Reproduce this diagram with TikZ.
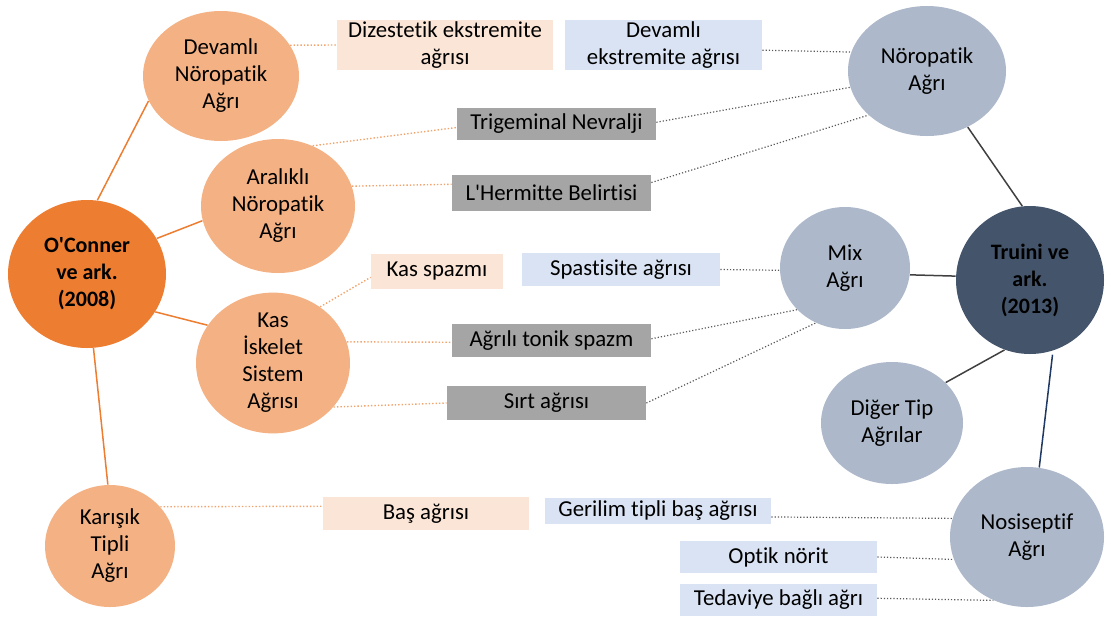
\documentclass[tikz,border=0pt]{standalone}
\usepackage{fontspec}
\setmainfont{Carlito}[Ligatures={NoCommon}]
\usetikzlibrary{shapes.geometric}
\definecolor{oconnerorange}{HTML}{ED7D31}
\definecolor{lightorange}{HTML}{F4B183}
\definecolor{peach}{HTML}{FBE5D6}
\definecolor{paleblue}{HTML}{DAE3F3}
\definecolor{boxgray}{HTML}{A5A5A5}
\definecolor{bluegray}{HTML}{ADB9CA}
\definecolor{truinidark}{HTML}{44546A}
\definecolor{linegray}{HTML}{595959}
\definecolor{navyline}{HTML}{203864}
\tikzset{
  px/.style 2 args = {minimum width=#1*0.5pt, minimum height=#2*0.5pt},
  painnode/.style = {ellipse, inner sep=0pt, align=center,
    font=\fontsize{11.4}{13.5}\selectfont},
  painbox/.style = {rectangle, inner sep=0pt, align=center,
    font=\fontsize{11.4}{13.5}\selectfont},
  orangelink/.style = {draw=oconnerorange, line width=0.75pt},
  orangedots/.style = {draw=oconnerorange!70, line width=0.7pt, densely dotted},
  graydots/.style = {draw=linegray, line width=0.6pt, densely dotted},
  darklink/.style = {draw=black!75, line width=0.75pt}
}

\begin{document}
\begin{tikzpicture}[x=0.5pt,y=-0.5pt]
  \useasboundingbox (0,0) rectangle (1109,617);
  % O'Conner side
  \node[painnode, fill=oconnerorange, px={158}{148}, font=\fontsize{11}{13.5}\selectfont\bfseries] (oconner) at (87,274) {O\textquotesingle Conner\\ve ark.\\(2008)};
  \node[painnode, fill=lightorange, px={156}{130}] (devamli) at (221,76) {Devamlı\\Nöropatik\\Ağrı};
  \node[painnode, fill=lightorange, px={154}{134}] (aralikli) at (278,206) {Aralıklı\\Nöropatik\\Ağrı};
  \node[painnode, fill=lightorange, px={154}{116}] (kas) at (273,363) {Kas\\İskelet\\Sistem\\Ağrısı};
  \node[painnode, fill=lightorange, px={130}{122}] (karisik) at (110,546) {Karışık\\Tipli\\Ağrı};
  % Truini side
  \node[painnode, fill=truinidark, px={148}{148}, font=\fontsize{11}{13.5}\selectfont\bfseries] (truini) at (1030,280) {Truini ve\\ark.\\(2013)};
  \node[painnode, fill=bluegray, px={158}{130}] (noropatik) at (927,71) {Nöropatik\\Ağrı};
  \node[painnode, fill=bluegray, px={130}{122}] (mix) at (845,268) {Mix\\Ağrı};
  \node[painnode, fill=bluegray, px={142}{122}] (diger) at (892,423) {Diğer Tip\\Ağrılar};
  \node[painnode, fill=bluegray, px={154}{140}] (nosiseptif) at (1027,537) {Nosiseptif\\Ağrı};
  % boxes
  \node[painbox, fill=peach, px={216}{50}] (diz) at (445,45) {Dizestetik ekstremite\\ağrısı};
  \node[painbox, fill=paleblue, px={197}{50}] (devext) at (663.5,45) {Devamlı\\ekstremite ağrısı};
  \node[painbox, fill=boxgray, px={199}{32}] (trig) at (556.5,124) {Trigeminal Nevralji};
  \node[painbox, fill=boxgray, px={199}{36}] (lherm) at (551.5,193) {L\textquotesingle Hermitte Belirtisi};
  \node[painbox, fill=peach, px={132}{35}] (kasspazm) at (437,271.5) {Kas spazmı};
  \node[painbox, fill=paleblue, px={198}{33}] (spast) at (621,269.5) {Spastisite ağrısı};
  \node[painbox, fill=boxgray, px={199}{33}] (tonik) at (551.5,340.5) {Ağrılı tonik spazm};
  \node[painbox, fill=boxgray, px={199}{34}] (sirt) at (546.5,403) {Sırt ağrısı};
  \node[painbox, fill=peach, px={206}{33}] (bas) at (426,513.5) {Baş ağrısı};
  \node[painbox, fill=paleblue, px={226}{26}] (gerilim) at (658,511) {Gerilim tipli baş ağrısı};
  \node[painbox, fill=paleblue, px={197}{32}] (optik) at (778.5,557) {Optik nörit};
  \node[painbox, fill=paleblue, px={197}{32}] (tedavi) at (778.5,600) {Tedaviye bağlı ağrı};
  % links
  \draw[orangelink] (oconner.82) -- (devamli.199);
  \draw[orangelink] (oconner.27) -- (aralikli.191);
  \draw[orangelink] (oconner.331) -- (kas.150);
  \draw[orangelink] (oconner.275) -- (karisik.92);
  \draw[orangedots] (devamli.24) -- (diz.west);
  \draw[orangedots] (aralikli.60) -- (trig.182);
  \draw[orangedots] (aralikli.15) -- (lherm.175);
  \draw[orangedots] (kas.50) -- (kasspazm.185);
  \draw[orangedots] (kas.16) -- (tonik.181);
  \draw[orangedots] (kas.324) -- (sirt.west);
  \draw[orangedots] (karisik.38) -- (bas.176);
  \draw[graydots] (devext.357) -- (noropatik.166);
  \draw[graydots] (trig.1) -- (noropatik.192);
  \draw[graydots] (lherm.6) -- (noropatik.217);
  \draw[graydots] (spast.east) -- (mix.182);
  \draw[graydots] (tonik.1) -- (mix.221);
  \draw[graydots] (sirt.east) -- (mix.242);
  \draw[graydots] (gerilim.357) -- (nosiseptif.166);
  \draw[graydots] (optik.east) -- (nosiseptif.197);
  \draw[graydots] (tedavi.1) -- (nosiseptif.242);
  \draw[darklink] (noropatik.306) -- (truini.96);
  \draw[darklink] (mix.354) -- (truini.177);
  \draw[darklink] (diger.37) -- (truini.250);
  \draw[draw=navyline, line width=0.75pt, shorten <=2pt] (truini.288) -- (nosiseptif.80);
\end{tikzpicture}
\end{document}
